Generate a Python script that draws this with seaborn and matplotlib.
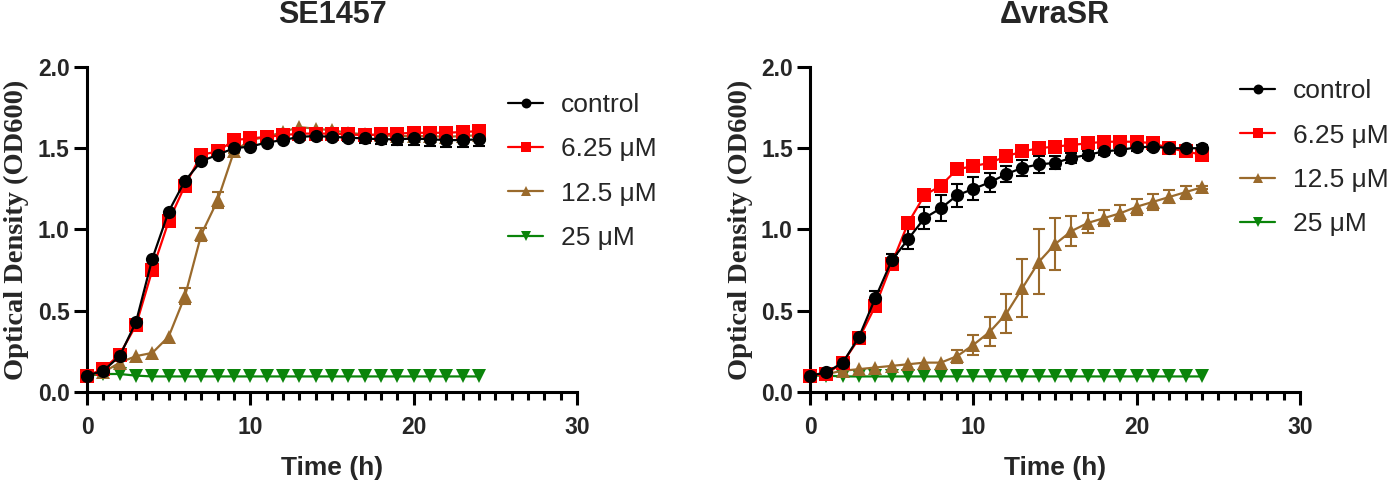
import numpy as np
import pandas as pd
import matplotlib
matplotlib.use("Agg")
import matplotlib.pyplot as plt
from matplotlib.ticker import MultipleLocator, FormatStrFormatter
import seaborn as sns

# =============================================================================
# DATA
# =============================================================================
time_h = list(range(25))
groups = ["control", "6.25 μM", "12.5 μM", "25 μM"]
colors = ["#000000", "#FF0000", "#9A6A2C", "#0A840A"]
markers = ["o", "s", "^", "v"]

# --- SE1457 ---
se_control = [0.10, 0.13, 0.22, 0.43, 0.82, 1.11, 1.30, 1.42, 1.46, 1.50, 1.51, 1.535,
              1.55, 1.57, 1.575, 1.57, 1.565, 1.56, 1.555, 1.555, 1.56, 1.555, 1.55, 1.55, 1.555]
se_control_sd = [0, 0, 0, 0, 0, 0, 0, 0, 0, 0, 0, 0,
                 0, 0, 0, 0.015, 0.02, 0.03, 0.03, 0.035, 0.04, 0.04, 0.04, 0.045, 0.04]
se_625 = [0.10, 0.14, 0.23, 0.41, 0.75, 1.05, 1.27, 1.46, 1.48, 1.55, 1.56, 1.57,
          1.58, 1.59, 1.59, 1.59, 1.585, 1.58, 1.585, 1.59, 1.595, 1.595, 1.595, 1.60, 1.605]
se_625_sd = [0] * 25
se_125 = [0.10, 0.12, 0.18, 0.22, 0.24, 0.34, 0.59, 0.97, 1.18, 1.48, 1.55, 1.57,
          1.60, 1.63, 1.62, 1.61, 1.595, 1.585, 1.58, 1.575, 1.575, 1.575, 1.57, 1.575, 1.58]
se_125_sd = [0, 0, 0, 0, 0, 0, 0.05, 0.04, 0.05, 0.01, 0, 0,
             0, 0, 0, 0, 0, 0, 0, 0, 0.01, 0.01, 0.01, 0.01, 0.01]
se_25 = [0.10, 0.11, 0.11, 0.10, 0.095, 0.095, 0.095, 0.095, 0.095, 0.095, 0.095, 0.095,
         0.095, 0.095, 0.095, 0.095, 0.095, 0.095, 0.095, 0.095, 0.095, 0.095, 0.095, 0.095, 0.095]
se_25_sd = [0] * 25

# --- ΔvraSR ---
vr_control = [0.10, 0.12, 0.18, 0.34, 0.58, 0.81, 0.94, 1.07, 1.13, 1.21, 1.25, 1.29,
              1.34, 1.38, 1.40, 1.41, 1.44, 1.46, 1.48, 1.49, 1.505, 1.51, 1.50, 1.50, 1.50]
vr_control_sd = [0, 0, 0.01, 0.01, 0.04, 0.04, 0.06, 0.07, 0.08, 0.07, 0.07, 0.06,
                 0.05, 0.05, 0.05, 0.04, 0.03, 0.02, 0.02, 0.02, 0.02, 0.02, 0.02, 0.02, 0.02]
vr_625 = [0.10, 0.11, 0.18, 0.33, 0.53, 0.79, 1.04, 1.21, 1.27, 1.37, 1.39, 1.41,
          1.45, 1.48, 1.50, 1.51, 1.52, 1.53, 1.54, 1.54, 1.54, 1.53, 1.50, 1.48, 1.46]
vr_625_sd = [0, 0, 0, 0, 0, 0, 0, 0, 0.03, 0, 0, 0,
             0, 0, 0, 0, 0, 0, 0, 0, 0, 0, 0, 0, 0]
vr_125 = [0.10, 0.11, 0.13, 0.14, 0.15, 0.16, 0.17, 0.18, 0.18, 0.22, 0.29, 0.37,
          0.48, 0.64, 0.80, 0.91, 0.99, 1.04, 1.07, 1.10, 1.14, 1.17, 1.20, 1.23, 1.26]
vr_125_sd = [0, 0, 0, 0, 0, 0, 0, 0, 0, 0.04, 0.06, 0.09,
             0.12, 0.18, 0.20, 0.16, 0.09, 0.06, 0.05, 0.05, 0.05, 0.05, 0.04, 0.04, 0.01]
vr_25 = [0.10, 0.10, 0.095, 0.095, 0.095, 0.095, 0.095, 0.095, 0.095, 0.095, 0.095, 0.095,
         0.095, 0.095, 0.095, 0.095, 0.095, 0.095, 0.095, 0.095, 0.095, 0.095, 0.095, 0.095, 0.095]
vr_25_sd = [0] * 25

panels = [
    ("SE1457", [se_control, se_625, se_125, se_25],
     [se_control_sd, se_625_sd, se_125_sd, se_25_sd]),
    ("ΔvraSR", [vr_control, vr_625, vr_125, vr_25],
     [vr_control_sd, vr_625_sd, vr_125_sd, vr_25_sd]),
]

# =============================================================================
# STYLE
# =============================================================================
sns.set_theme(style="ticks")
plt.rcParams["font.family"] = ["Liberation Sans", "DejaVu Sans"]
plt.rcParams["axes.linewidth"] = 2.2

palette = dict(zip(groups, colors))
marker_map = dict(zip(groups, markers))

fig = plt.figure(figsize=(13.92, 4.82), dpi=100)
ax_pos = [[0.0625, 0.187, 0.352, 0.674], [0.582, 0.187, 0.352, 0.674]]
legend_anchor = [(0.86, 0.92), (0.878, 0.962)]

for i, (title, means, sds) in enumerate(panels):
    ax = fig.add_axes(ax_pos[i])

    rows = []
    for g, m, s in zip(groups, means, sds):
        for t, v, e in zip(time_h, m, s):
            rows.append({"Time": t, "OD": v, "SD": e, "Group": g})
    df = pd.DataFrame(rows)

    # draw last group first so control sits on top
    draw_order = groups[::-1]
    for g in draw_order:
        sub = df[(df["Group"] == g) & (df["SD"] > 0)]
        if len(sub):
            ax.errorbar(sub["Time"], sub["OD"], yerr=sub["SD"], fmt="none",
                        ecolor=palette[g], elinewidth=1.5, capsize=4.5, capthick=1.5,
                        zorder=3, clip_on=False)

    sns.lineplot(data=df, x="Time", y="OD", hue="Group", style="Group",
                 hue_order=draw_order, style_order=draw_order,
                 palette=palette, markers=marker_map, dashes=False,
                 markersize=9.5, markeredgewidth=0, linewidth=1.6,
                 legend=True, ax=ax)
    for ln in ax.lines:
        ln.set_clip_on(False)
        ln.set_zorder(4)

    handles, labels = ax.get_legend_handles_labels()
    hl = dict(zip(labels, handles))
    ax.legend([hl[g] for g in groups], groups, loc="upper left",
              bbox_to_anchor=legend_anchor[i], frameon=False, fontsize=19,
              handlelength=1.3, handletextpad=0.7, labelspacing=0.77,
              borderpad=0, borderaxespad=0, markerscale=0.75)

    ax.set_xlim(0, 30)
    ax.set_ylim(0, 2.0)
    ax.set_xticks([0, 10, 20, 30])
    ax.xaxis.set_minor_locator(MultipleLocator(1))
    ax.set_yticks([0, 0.5, 1.0, 1.5, 2.0])
    ax.yaxis.set_major_formatter(FormatStrFormatter("%.1f"))
    ax.tick_params(axis="both", which="major", length=9.5, width=2.2,
                   labelsize=16.5, color="black")
    ax.tick_params(axis="x", which="major", pad=8)
    ax.tick_params(axis="y", which="major", pad=3)
    ax.tick_params(axis="x", which="minor", length=5.5, width=2.2, color="black")
    for lab in ax.get_xticklabels() + ax.get_yticklabels():
        lab.set_fontweight("bold")

    ax.set_xlabel("Time (h)", fontsize=19, fontweight="bold", labelpad=12)
    ax.set_ylabel("Optical Density (OD600)", fontsize=20.5, fontweight="bold",
                  family=["Liberation Serif", "DejaVu Serif"], labelpad=6)
    ax.set_title(title, fontsize=22, fontweight="bold", pad=32)
    sns.despine(ax=ax)
    for sp in ["left", "bottom"]:
        ax.spines[sp].set_color("black")
        ax.spines[sp].set_linewidth(2.2)

fig.savefig("out.png", dpi=100)
